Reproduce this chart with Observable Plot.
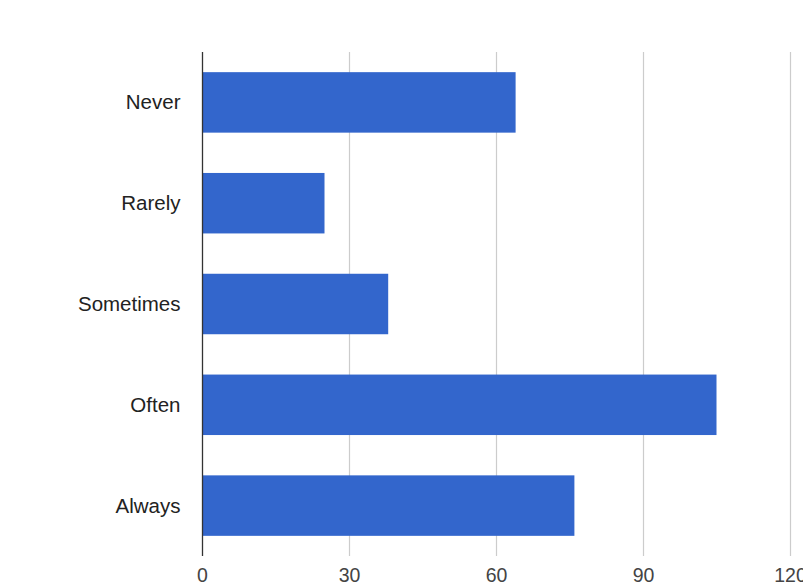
<!DOCTYPE html>
<html>
<head>
<meta charset="utf-8">
<script src="https://cdn.jsdelivr.net/npm/d3@7"></script>
<script src="https://cdn.jsdelivr.net/npm/@observablehq/plot@0.6"></script>
<style>
  html, body { margin: 0; padding: 0; background: #fff; }
  #chart { width: 803px; height: 587px; overflow: hidden; }
  #chart svg { overflow: visible; }
</style>
</head>
<body>
<div id="chart"></div>
<script>
// Survey answers: how often, and how many respondents gave each answer
const categories = ["Never", "Rarely", "Sometimes", "Often", "Always"];
const counts = [64, 25, 38, 105, 76];
const xTicks = [0, 30, 60, 90, 120];

const rows = categories.map((answer, i) => ({answer, count: counts[i]}));

const chart = Plot.plot({
  width: 803,
  height: 587,
  marginTop: 52,
  marginBottom: 31,
  marginLeft: 202,
  marginRight: 13,
  style: {fontFamily: "'Liberation Sans', Arial, sans-serif", fontSize: "20.5px", background: "#fff"},
  x: {domain: [0, 120]},
  y: {domain: categories, paddingInner: 0.4, paddingOuter: 0.2, round: false},
  marks: [
    Plot.ruleX(xTicks.slice(1), {stroke: "#cccccc", strokeWidth: 1.2}),
    Plot.barX(rows, {x: "count", y: "answer", fill: "#3366cc"}),
    Plot.ruleX([0], {stroke: "#333333", strokeWidth: 1.3}),
    Plot.axisX({ticks: xTicks, tickSize: 0, tickPadding: 12, label: null, color: "#444", fontSize: 19.5}),
    Plot.axisY({tickSize: 0, tickPadding: 22, label: null, color: "#222", fontSize: 20.5})
  ]
});

document.getElementById("chart").appendChild(chart);
</script>
</body>
</html>
